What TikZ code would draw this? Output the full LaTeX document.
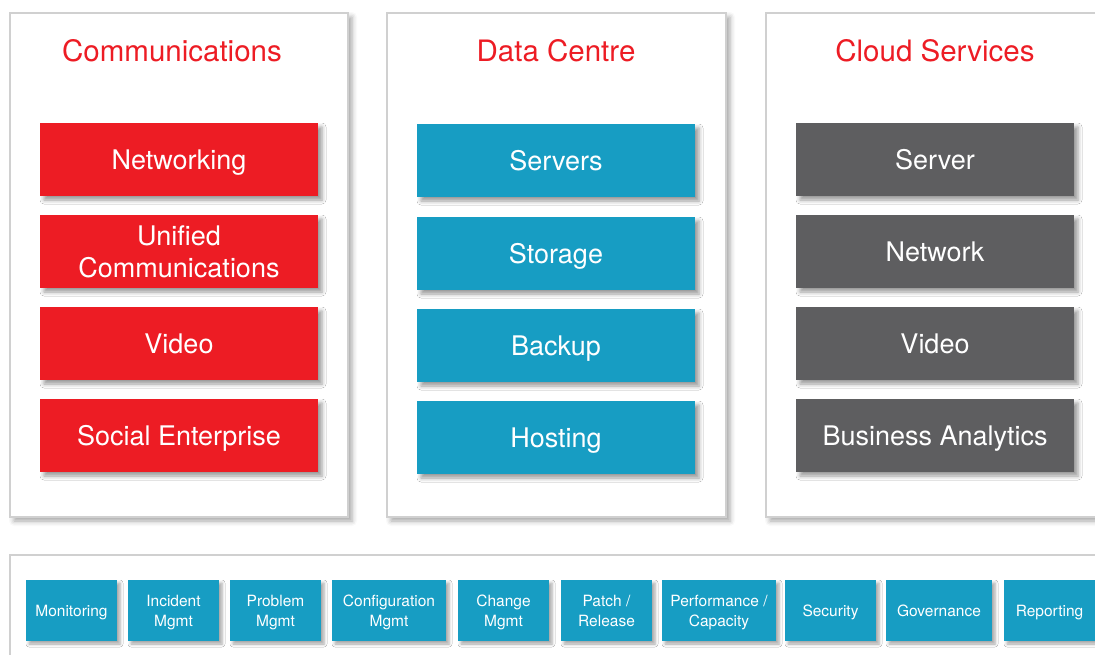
\documentclass[tikz,border=0pt]{standalone}
\usepackage{fontspec}
\setmainfont{TeX Gyre Heros}
\usepackage{tikz}
\definecolor{cred}{RGB}{237, 28, 36}
\definecolor{cblue}{RGB}{23, 157, 195}
\definecolor{cgrey}{RGB}{94, 94, 96}
\definecolor{cframe}{RGB}{208, 208, 208}
\usetikzlibrary{positioning}
\usetikzlibrary{shadows.blur}

\begin{document}
\begin{tikzpicture}[
  panel/.style={rectangle, fill=white, draw=cframe, line width=2pt, inner sep=0pt,
    blur shadow={shadow xshift=4pt, shadow yshift=-4pt, shadow blur radius=5pt, shadow opacity=35}},
  title/.style={text=cred, font=\fontsize{29.5}{34}\selectfont, inner sep=0pt},
  tile/.style={rectangle, minimum width=278pt, minimum height=73pt, inner sep=0pt, text=white,
    align=center, text depth=0pt, font=\fontsize{27}{32}\selectfont,
    blur shadow={shadow xshift=4pt, shadow yshift=-4pt, shadow blur radius=4pt, shadow opacity=40}},
  service/.style={rectangle, minimum height=61pt, inner sep=0pt, fill=cblue, text=white,
    align=center, text depth=0pt, font=\fontsize{15.5}{20}\selectfont,
    blur shadow={shadow xshift=3pt, shadow yshift=-3pt, shadow blur radius=3pt, shadow opacity=35}}]
\useasboundingbox (0pt, 0pt) rectangle (1095pt, -654pt);
\clip (0pt, 0pt) rectangle (1095pt, -654pt);
% panels
\node (p1) [panel, minimum width=338pt, minimum height=504pt] at (179.0pt, -265.0pt) {};
\node (p2) [panel, minimum width=339pt, minimum height=504pt] at (556.5pt, -265.0pt) {};
\node (p3) [panel, minimum width=339pt, minimum height=504pt] at (935.5pt, -265.0pt) {};
\node (p4) [panel, minimum width=1120pt, minimum height=150pt] at (570.0pt, -630.0pt) {};
% titles
\node (comm) [title] at (172.0pt, -51.0pt) {Communications};
\node (dc) [title] at (556.0pt, -51.0pt) {Data Centre};
\node (cloud) [title] at (935.0pt, -51.0pt) {Cloud Services};
% communications
\node (netw) [tile, fill=cred] at (179.0pt, -159.5pt) {Networking};
\node (uc) [tile, fill=cred] at (179.0pt, -251.5pt) {Unified\\Communications};
\node (vid) [tile, fill=cred] at (179.0pt, -343.5pt) {Video};
\node (soc) [tile, fill=cred] at (179.0pt, -435.5pt) {Social Enterprise};
% data centre
\node (serv) [tile, fill=cblue] at (556.0pt, -160.5pt) {Servers};
\node (stor) [tile, fill=cblue] at (556.0pt, -253.5pt) {Storage};
\node (back) [tile, fill=cblue] at (556.0pt, -345.5pt) {Backup};
\node (host) [tile, fill=cblue] at (556.0pt, -437.5pt) {Hosting};
% cloud services
\node (cserv) [tile, fill=cgrey] at (935.0pt, -159.5pt) {Server};
\node (cnet) [tile, fill=cgrey] at (935.0pt, -251.5pt) {Network};
\node (cvid) [tile, fill=cgrey] at (935.0pt, -343.5pt) {Video};
\node (cba) [tile, fill=cgrey] at (935.0pt, -435.5pt) {Business Analytics};
% managed services
\node (mon) [service, minimum width=91pt] at (71.5pt, -610.5pt) {Monitoring};
\node (inc) [service, minimum width=91pt] at (173.5pt, -610.5pt) {Incident\\Mgmt};
\node (prob) [service, minimum width=91pt] at (275.5pt, -610.5pt) {Problem\\Mgmt};
\node (conf) [service, minimum width=114pt] at (389.0pt, -610.5pt) {Configuration\\Mgmt};
\node (chg) [service, minimum width=91pt] at (503.5pt, -610.5pt) {Change\\Mgmt};
\node (patch) [service, minimum width=91pt] at (606.5pt, -610.5pt) {Patch /\\Release};
\node (perf) [service, minimum width=114pt] at (719.0pt, -610.5pt) {Performance /\\Capacity};
\node (sec) [service, minimum width=91pt] at (830.5pt, -610.5pt) {Security};
\node (gov) [service, minimum width=106pt] at (939.0pt, -610.5pt) {Governance};
\node (rep) [service, minimum width=91pt] at (1049.5pt, -610.5pt) {Reporting};
\end{tikzpicture}
\end{document}
